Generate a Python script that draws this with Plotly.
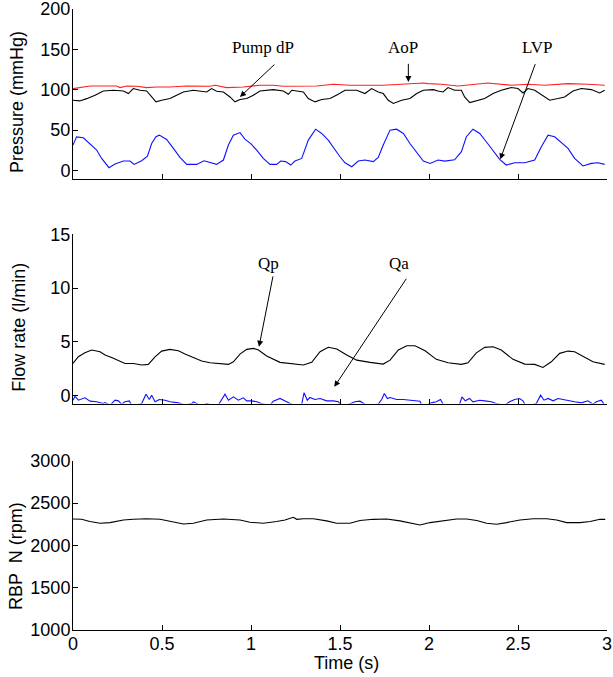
import plotly.graph_objects as go

# ---------------- data ----------------
# Top panel: pressures (mmHg)
t_aop = [0.0, 0.096, 0.245, 0.264, 0.302, 0.358, 0.414, 0.47, 0.545, 0.639,
         0.77, 0.798, 0.863, 0.957, 1.05, 1.125, 1.182, 1.369, 1.463, 1.556,
         1.743, 1.837, 1.968, 1.994, 2.069, 2.163, 2.331, 2.462, 2.556, 2.65,
         2.781, 2.893, 2.987]
aop = [101.4, 104.7, 104.7, 102.7, 104.7, 104.3, 102.7, 103.5, 103.5, 104.7,
       104.3, 105.6, 102.7, 103.5, 105.6, 105.6, 104.3, 104.7, 106.8, 105.6,
       105.6, 106.8, 108.4, 107.6, 106.8, 104.7, 108.4, 105.6, 106.8, 105.6,
       107.6, 106.8, 105.6]

t_dp = [0, 0.038, 0.077, 0.124, 0.17, 0.227, 0.283, 0.311, 0.339, 0.376,
        0.414, 0.442, 0.466, 0.498, 0.545, 0.582, 0.62, 0.676, 0.713, 0.751,
        0.779, 0.807, 0.845, 0.882, 0.91, 0.938, 0.976, 1.013, 1.05, 1.125,
        1.182, 1.21, 1.229, 1.266, 1.294, 1.322, 1.36, 1.397, 1.444, 1.49,
        1.528, 1.594, 1.64, 1.678, 1.715, 1.743, 1.771, 1.8, 1.846, 1.893,
        1.931, 1.968, 2.024, 2.051, 2.079, 2.107, 2.144, 2.182, 2.2, 2.229,
        2.266, 2.313, 2.36, 2.406, 2.462, 2.5, 2.528, 2.556, 2.594, 2.631,
        2.678, 2.725, 2.762, 2.809, 2.856, 2.912, 2.959, 2.987]
pump_dp = [87, 86.2, 89, 93.2, 98.5, 99.4, 98.5, 95.3, 101.5, 99.4,
           98.5, 91.1, 85, 87, 89.1, 93.2, 97.3, 99.4, 98.5, 97.3,
           101.5, 98.1, 97.3, 91.1, 85, 87.9, 89.1, 93.2, 98.5, 100.2,
           98.5, 94.4, 99.4, 98.5, 97.3, 89.1, 85, 87.9, 89.1, 94.4,
           99.4, 99.4, 95.3, 101.5, 97.3, 95.3, 87, 83, 87, 89.1,
           95.3, 99.4, 100.2, 98.5, 97.3, 102.7, 99.4, 99.4, 91.1, 84.2,
           86.2, 89.1, 95.3, 99.4, 102.7, 101.5, 96, 101.5, 99.4, 94.4,
           87, 89.1, 91.1, 98.5, 101.5, 100.2, 96, 99.4]

t_lvp = [0, 0.02, 0.058, 0.096, 0.133, 0.161, 0.202, 0.236, 0.283, 0.32,
         0.343, 0.386, 0.418, 0.442, 0.466, 0.485, 0.526, 0.564, 0.601, 0.639,
         0.695, 0.736, 0.77, 0.807, 0.845, 0.873, 0.901, 0.938, 0.966, 1.0,
         1.032, 1.069, 1.107, 1.144, 1.167, 1.195, 1.223, 1.247, 1.285, 1.322,
         1.363, 1.397, 1.434, 1.472, 1.5, 1.528, 1.566, 1.603, 1.64, 1.687,
         1.715, 1.743, 1.781, 1.818, 1.856, 1.893, 1.931, 1.968, 2.006, 2.051,
         2.088, 2.144, 2.182, 2.21, 2.247, 2.285, 2.322, 2.36, 2.397, 2.434,
         2.481, 2.538, 2.594, 2.631, 2.669, 2.706, 2.743, 2.781, 2.818, 2.865,
         2.912, 2.949, 2.987]
lvp = [31.5, 41.7, 40.5, 32.7, 25.3, 15, 3.5, 8, 11.7, 11.7,
       7.6, 12.1, 17.9, 33.5, 41.8, 43.8, 38.5, 27.4, 16.3, 7.6,
       7.6, 12.1, 9.6, 7.6, 13, 31.5, 43.8, 47, 38.9, 33,
       25.3, 15, 7.6, 7.6, 11.7, 11, 6.8, 11.7, 15, 37.7,
       51.2, 45.9, 37.7, 25.3, 17, 9.6, 4.7, 11.7, 13, 11,
       16.3, 31.5, 50, 51.2, 45.9, 33.5, 22, 11.7, 8.8, 13,
       11.7, 13.3, 23.3, 41.8, 51.2, 45.9, 35.6, 25.3, 13.8, 6.8,
       9.6, 9.6, 13, 29.4, 43.8, 41.8, 34.3, 27.4, 15, 5.6,
       8.8, 9.6, 7.6]

# Middle panel: flow rates (l/min)
t_qp = [0, 0.03, 0.067, 0.105, 0.152, 0.18, 0.217, 0.255, 0.292, 0.339,
        0.386, 0.423, 0.461, 0.498, 0.545, 0.592, 0.629, 0.676, 0.723, 0.77,
        0.826, 0.873, 0.901, 0.938, 0.976, 1.013, 1.04, 1.088, 1.163, 1.219,
        1.294, 1.341, 1.388, 1.434, 1.482, 1.538, 1.594, 1.669, 1.743, 1.781,
        1.828, 1.875, 1.921, 1.978, 2.0, 2.041, 2.107, 2.182, 2.219, 2.266,
        2.313, 2.36, 2.406, 2.472, 2.538, 2.594, 2.64, 2.687, 2.734, 2.781,
        2.818, 2.865, 2.921, 2.987]
qp = [2.98, 3.6, 3.97, 4.23, 4.07, 3.76, 3.54, 3.23, 2.98, 2.98,
      2.83, 2.89, 3.6, 4.13, 4.29, 4.16, 3.85, 3.54, 3.2, 3.04,
      2.98, 2.89, 3.13, 3.85, 4.29, 4.38, 4.25, 3.67, 3.08, 2.98,
      2.83, 3.08, 4.07, 4.48, 4.32, 3.76, 3.29, 3.08, 2.92, 3.29,
      4.23, 4.63, 4.63, 4.16, 3.9, 3.36, 3.04, 2.89, 3.04, 3.97,
      4.48, 4.54, 4.23, 3.36, 2.92, 2.89, 2.61, 3.13, 3.92, 4.13,
      4.07, 3.67, 3.13, 2.89]

t_qa = [0, 0.011, 0.03, 0.067, 0.096, 0.133, 0.17, 0.18, 0.208, 0.236,
        0.255, 0.273, 0.292, 0.316, 0.329, 0.358, 0.386, 0.41, 0.429, 0.442,
        0.461, 0.485, 0.517, 0.545, 0.592, 0.629, 0.667, 0.676, 0.704, 0.732,
        0.751, 0.779, 0.816, 0.835, 0.854, 0.873, 0.901, 0.929, 0.957, 0.976,
        1.004, 1.032, 1.069, 1.107, 1.125, 1.163, 1.191, 1.228, 1.257, 1.285,
        1.298, 1.316, 1.331, 1.359, 1.388, 1.425, 1.463, 1.491, 1.504, 1.537,
        1.584, 1.612, 1.64, 1.669, 1.715, 1.734, 1.749, 1.766, 1.781, 1.818,
        1.856, 1.893, 1.931, 1.949, 1.959, 1.987, 2.013, 2.041, 2.065, 2.079,
        2.107, 2.144, 2.172, 2.185, 2.204, 2.228, 2.247, 2.285, 2.313, 2.35,
        2.388, 2.425, 2.453, 2.481, 2.509, 2.528, 2.541, 2.575, 2.603, 2.627,
        2.646, 2.669, 2.697, 2.725, 2.753, 2.781, 2.818, 2.856, 2.893, 2.921,
        2.94, 2.968, 2.983]
qa = [-0.44, -0.07, -0.44, -0.22, -0.53, -0.59, -0.75, -0.66, -0.9, -0.44,
      -0.5, -0.81, -0.59, -0.5, -0.9, -0.9, -0.75, 0.12, -0.38, 0.03,
      -0.59, -0.38, -0.44, -0.59, -0.69, -0.9, -0.75, -0.59, -0.81, -0.9,
      -0.75, -0.9, -0.9, -0.44, 0.12, -0.44, -0.13, -0.44, -0.22, -0.5,
      -0.5, -0.59, -0.81, -0.9, -0.53, -0.28, -0.5, -0.81, -0.9, -0.81,
      0.25, -0.44, -0.19, -0.38, -0.28, -0.5, -0.5, -0.59, -0.9, -0.9,
      -0.59, -0.53, -0.81, -0.9, -0.81, -0.38, 0.19, -0.28, -0.19, -0.38,
      -0.38, -0.44, -0.5, -0.53, -0.9, -0.9, -0.69, -0.59, -0.38, -0.81,
      -0.9, -0.9, -0.81, -0.13, -0.5, -0.28, -0.59, -0.44, -0.5, -0.59,
      -0.81, -0.9, -0.59, -0.38, -0.28, -0.5, -0.9, -0.9, -0.75, 0.03,
      -0.44, -0.28, -0.5, -0.28, -0.38, -0.5, -0.59, -0.69, -0.5, -0.81,
      -0.59, -0.44, -0.81]

# Bottom panel: pump speed (rpm)
t_rbp = [0, 0.048, 0.095, 0.152, 0.208, 0.283, 0.339, 0.414, 0.489, 0.545,
         0.62, 0.676, 0.751, 0.844, 0.938, 0.994, 1.069, 1.144, 1.191, 1.238,
         1.257, 1.294,
         1.35, 1.425, 1.481, 1.556, 1.612, 1.687, 1.762, 1.837, 1.893, 1.949,
         2.006, 2.081, 2.155, 2.212, 2.268, 2.324, 2.38, 2.436, 2.511, 2.586,
         2.661, 2.717, 2.773, 2.848, 2.905, 2.961, 2.99]
rbp = [2311.5, 2307.5, 2281, 2261, 2269, 2300, 2307.5, 2315, 2307.5, 2281,
       2253, 2261, 2300, 2311.5, 2300, 2273, 2261, 2281, 2300, 2331,
       2307.5, 2315,
       2315, 2289, 2261, 2261, 2293, 2307.5, 2311.5, 2289, 2261, 2241,
       2269, 2293, 2311.5, 2311.5, 2293, 2261, 2249, 2269, 2300, 2315,
       2315, 2300, 2269, 2269, 2281, 2307.5, 2307.5]

x_ticks = [0, 0.5, 1, 1.5, 2, 2.5, 3]
x_ticktext = ["0", "0.5", "1", "1.5", "2", "2.5", "3"]
p_ticks = [0, 50, 100, 150, 200]
q_ticks = [0, 5, 10, 15]
n_ticks = [1000, 1500, 2000, 2500, 3000]

# ---------------- figure ----------------
fig = go.Figure()
lw = 1.1
fig.add_trace(go.Scatter(x=t_aop, y=aop, mode="lines", line=dict(color="#ff2020", width=lw),
                         xaxis="x", yaxis="y", name="AoP"))
fig.add_trace(go.Scatter(x=t_dp, y=pump_dp, mode="lines", line=dict(color="black", width=lw),
                         xaxis="x", yaxis="y", name="Pump dP"))
fig.add_trace(go.Scatter(x=t_lvp, y=lvp, mode="lines", line=dict(color="#1010ff", width=lw),
                         xaxis="x", yaxis="y", name="LVP"))
fig.add_trace(go.Scatter(x=t_qp, y=qp, mode="lines", line=dict(color="black", width=lw),
                         xaxis="x2", yaxis="y2", name="Qp"))
fig.add_trace(go.Scatter(x=t_qa, y=qa, mode="lines", line=dict(color="#1010ff", width=lw),
                         xaxis="x2", yaxis="y2", name="Qa"))
fig.add_trace(go.Scatter(x=t_rbp, y=rbp, mode="lines", line=dict(color="black", width=lw),
                         xaxis="x3", yaxis="y3", name="RBP N"))

axcommon = dict(showline=True, linecolor="black", linewidth=1, ticks="inside",
                ticklen=5, tickcolor="black", tickwidth=1, showgrid=False,
                zeroline=False, mirror=False, automargin=False,
                ticklabeloverflow="allow")

fig.update_layout(
    width=613, height=677,
    margin=dict(l=73, r=6, t=9, b=47, autoexpand=False),
    paper_bgcolor="white", plot_bgcolor="white",
    showlegend=False,
    font=dict(family="Liberation Sans, Arial, sans-serif", size=18, color="black"),
    xaxis=dict(domain=[0, 1], anchor="y", range=[0, 3], tickvals=x_ticks,
               showticklabels=False, **axcommon),
    xaxis2=dict(domain=[0, 1], anchor="y2", range=[0, 3], tickvals=x_ticks,
                showticklabels=False, **axcommon),
    xaxis3=dict(domain=[0, 1], anchor="y3", range=[0, 3], tickvals=x_ticks,
                ticktext=x_ticktext, ticklabelstandoff=-3, **axcommon),
    yaxis=dict(domain=[0.7269, 1.0], anchor="x", range=[-10, 200], tickvals=p_ticks,
               ticklabelstandoff=-2, **axcommon),
    yaxis2=dict(domain=[0.3647, 0.6372], anchor="x2", range=[-0.75, 15], tickvals=q_ticks,
                ticklabelstandoff=-2, **axcommon),
    yaxis3=dict(domain=[0, 0.2726], anchor="x3", range=[1000, 3000], tickvals=n_ticks,
                ticklabelstandoff=-2, **axcommon),
)

# axis titles
title_font = dict(family="Liberation Sans, Arial, sans-serif", size=18, color="black")
for txt, xp, yp, ang in [
    ("Pressure (mmHg)", -0.1049, 0.8502, -90),
    ("Flow rate (l/min)", -0.1011, 0.4867, -90),
    ("RBP  N (rpm)", -0.1067, 0.1192, -90),
    ("Time (s)", 0.5131, -0.0531, 0),
]:
    fig.add_annotation(text=txt, xref="paper", yref="paper", x=xp, y=yp,
                       showarrow=False, textangle=ang, font=title_font,
                       xanchor="center", yanchor="middle")

# labels (Times)
lab_font = dict(family="Liberation Serif, Times New Roman, serif", size=17, color="black")
for txt, xr, yr, xv, yv in [
    ("Pump dP", "x", "y", 1.065, 152.8),
    ("AoP", "x", "y", 1.852, 152.8),
    ("LVP", "x", "y", 2.608, 152.8),
    ("Qp", "x2", "y2", 1.101, 12.31),
    ("Qa", "x2", "y2", 1.833, 12.31),
]:
    fig.add_annotation(text=txt, xref=xr, yref=yr, x=xv, y=yv, showarrow=False,
                       font=lab_font, xanchor="center", yanchor="middle")

# arrows
for xr, yr, hx, hy, tx, ty in [
    ("x", "y", 0.938, 91.1, 1.14, 133),
    ("x", "y", 1.884, 109.6, 1.884, 134),
    ("x", "y", 2.40, 13.8, 2.60, 133.6),
    ("x2", "y2", 1.045, 4.53, 1.125, 11.22),
    ("x2", "y2", 1.468, 0.8, 1.878, 11.0),
]:
    fig.add_annotation(text="", xref=xr, yref=yr, x=hx, y=hy,
                       axref=xr, ayref=yr, ax=tx, ay=ty,
                       showarrow=True, arrowhead=2, arrowsize=1.2, arrowwidth=1,
                       arrowcolor="black", standoff=0, startstandoff=0)

fig.write_html("out.html", config={"displayModeBar": False},
               post_script="document.body.style.margin='0';document.body.style.overflow='hidden';")
